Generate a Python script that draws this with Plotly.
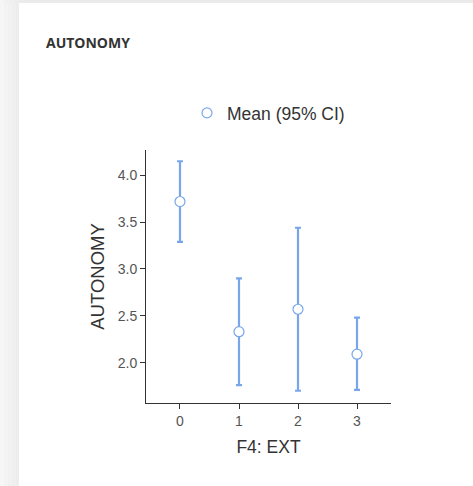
import plotly.graph_objects as go

categories = [0, 1, 2, 3]
means = [3.72, 2.33, 2.57, 2.09]
upper = [4.15, 2.90, 3.44, 2.48]
lower = [3.29, 1.76, 1.70, 1.71]
tick_vals_y = [2.0, 2.5, 3.0, 3.5, 4.0]

err_plus = [u - m for u, m in zip(upper, means)]
err_minus = [m - l for m, l in zip(means, lower)]

blue = "#79a6ea"
W, H = 473, 486
L, R, T, B = 146, 391, 150, 403
pw, ph = R - L, B - T

def px(x):
    return (x - L) / pw

def py(y):
    return (B - y) / ph

fig = go.Figure()
fig.add_trace(go.Scatter(
    x=categories, y=means, mode="markers", name="Mean (95% CI)",
    marker=dict(symbol="circle", size=10, color="white", line=dict(color=blue, width=1.2)),
    error_y=dict(type="data", symmetric=False, array=err_plus, arrayminus=err_minus,
                 color=blue, thickness=2.2, width=3),
    showlegend=True,
))

shapes = [
    dict(type="rect", xref="paper", yref="paper", x0=px(0), x1=px(W), y0=py(3), y1=py(-5),
         fillcolor="#ebebeb", line=dict(width=0), layer="below"),
]
grays = ["#f6f6f6", "#f3f3f3", "#f1f1f1", "#efefef", "#ededed"]
for i, g in enumerate(grays):
    shapes.append(dict(type="rect", xref="paper", yref="paper", x0=px(i * 19 / 5), x1=px((i + 1) * 19 / 5),
                       y0=py(H + 5), y1=py(0), fillcolor=g, line=dict(width=0), layer="below"))

fig.update_layout(
    width=W, height=H,
    margin=dict(l=L, r=W - R, t=T, b=H - B),
    paper_bgcolor="white", plot_bgcolor="white",
    font=dict(family="Liberation Sans, Arial, sans-serif", color="#333333"),
    shapes=shapes,
    showlegend=True,
    legend=dict(x=px(187), y=py(113), xanchor="left", yanchor="middle", orientation="h",
                font=dict(size=17.5, color="#333333"), bgcolor="rgba(0,0,0,0)"),
    annotations=[dict(text="<b>AUTONOMY</b>", x=px(44), y=py(42), xref="paper", yref="paper",
                      xanchor="left", yanchor="middle", showarrow=False,
                      font=dict(family="Open Sans, sans-serif", size=14, color="#333333"))],
)
fig.update_xaxes(range=[-0.576, 3.576], tickvals=categories, ticktext=[str(c) for c in categories],
                 showgrid=False, zeroline=False, showline=True, linecolor="#333333", linewidth=1,
                 ticks="outside", ticklen=5, tickcolor="#333333",
                 tickfont=dict(size=14, color="#555555"),
                 title=dict(text="F4: EXT", font=dict(size=17.5, color="#333333"), standoff=12))
fig.update_yaxes(range=[1.569, 4.27], tickvals=tick_vals_y, tickformat=".1f",
                 showgrid=False, zeroline=False, showline=True, linecolor="#333333", linewidth=1,
                 ticks="outside", ticklen=5, tickcolor="#333333",
                 tickfont=dict(size=14, color="#555555"),
                 title=dict(text="AUTONOMY", font=dict(size=18.5, color="#333333"), standoff=8))

fig.write_html("out.html")
